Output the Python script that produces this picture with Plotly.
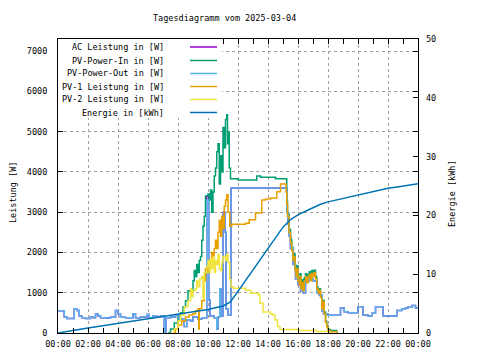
import plotly.graph_objects as go

DATE = "2025-03-04"


def ts(hm):
    if hm == "24:00":
        return "2025-03-05 00:00"
    return f"{DATE} {hm}"


# ---------------- data ----------------
# PV-Power-Out [W]
out_t = ["00:00", "00:25", "00:35", "01:05", "01:15", "01:25", "01:35", "01:50", "02:10", "02:20",
         "02:30", "02:40", "02:50", "03:10", "03:30", "03:50", "04:00", "04:10", "04:30", "05:00",
         "05:10", "05:30", "05:55", "06:05", "06:20", "06:35", "06:50", "07:05", "07:12", "07:30",
         "07:50", "08:05", "08:25", "08:35", "08:50", "09:00", "09:20", "09:35", "09:55", "10:03",
         "10:08", "10:25", "10:35", "10:40", "10:47", "10:52", "11:00", "11:08", "11:12", "11:20",
         "11:32", "15:15", "15:20", "15:25", "15:30", "15:40", "15:50", "16:00", "16:10", "16:20",
         "16:30", "16:45", "17:00", "17:15", "17:25", "17:35", "17:42", "18:00", "18:50", "19:05",
         "19:20", "20:00", "20:20", "20:40", "20:55", "21:10", "21:40", "22:35", "22:55", "23:10",
         "23:20", "23:35", "23:50", "24:00"]
out_w = [550, 400, 360, 600, 560, 420, 380, 360, 400, 380,
         470, 420, 380, 370, 390, 560, 480, 390, 380, 480,
         380, 400, 460, 380, 430, 400, 420, 0, 380, 400,
         450, 340, 160, 330, 300, 400, 350, 380, 3300, 820,
         420, 380, 100, 400, 1100, 420, 2980, 2500, 600, 450,
         3600, 3000, 2700, 2400, 2100, 1700, 1350, 1200, 1050, 1000,
         1300, 1350, 1300, 1000, 950, 550, 480, 440, 620, 530,
         500, 650, 450, 420, 490, 650, 420, 560, 600, 620,
         640, 680, 620, 620]

# AC Leistung [W] (mostly identical to PV-Power-Out, slightly higher peaks)
ac_t = out_t
ac_w = list(out_w)
ac_w[out_t.index("09:55")] = 3400
ac_w[out_t.index("11:00")] = 3000

# PV-Power-In [W]
in_t = ["07:20", "07:30", "07:45", "08:00", "08:10", "08:20", "08:30", "08:40", "08:50", "09:00",
        "09:05", "09:10", "09:15", "09:20", "09:25", "09:30", "09:35", "09:40", "09:45", "09:50",
        "10:00", "10:05", "10:10", "10:15", "10:20", "10:25", "10:30", "10:35", "10:40", "10:45",
        "10:50", "10:55", "11:00", "11:05", "11:10", "11:15", "11:18", "11:20", "11:25", "11:30",
        "12:00", "13:15", "13:30", "14:30", "15:15", "15:18", "15:24", "15:30", "15:35", "15:40",
        "15:45", "15:48", "15:52", "15:55", "16:00", "16:05", "16:08", "16:12", "16:15", "16:20",
        "16:25", "16:30", "16:35", "16:40", "16:45", "16:50", "16:55", "17:00", "17:05", "17:10",
        "17:15", "17:20", "17:25", "17:30", "17:35", "17:40", "17:45", "17:50", "17:55", "18:00",
        "18:10", "18:35"]
in_w = [0, 100, 250, 400, 500, 650, 800, 1050, 1000, 1300,
        1550, 1400, 1700, 1500, 1800, 1900, 2300, 2650, 2900, 3400,
        3450, 3300, 3550, 3000, 3500, 3900, 4100, 4500, 4700, 3700,
        4400, 4000, 5100, 4600, 5300, 5420, 4700, 5000, 4100, 3830,
        3800, 3900, 3870, 3830, 3270, 2970, 2570, 2320, 2120, 1870,
        1970, 1620, 1470, 1670, 1370, 1270, 1470, 1170, 1320, 1120,
        1370, 1470, 1320, 1450, 1520, 1370, 1550, 1460, 1560, 1400,
        1140, 1040, 1100, 920, 640, 810, 520, 290, 180, 90,
        60, 0]

# PV-1 Leistung [W]
pv1_t = ["07:40", "07:50", "08:00", "08:15", "08:30", "08:45", "09:00", "09:10", "09:20", "09:23",
         "09:25", "09:35", "09:45", "09:50", "09:55", "10:00", "10:05", "10:10", "10:15", "10:20",
         "10:25", "10:30", "10:35", "10:40", "10:45", "10:50", "10:55", "11:00", "11:05", "11:10",
         "11:15", "11:20", "11:27", "11:35", "12:30", "12:45", "13:10", "13:35", "13:50", "14:10",
         "14:35", "14:50", "15:12", "15:15", "15:18", "15:24", "15:30", "15:35", "15:40", "15:45",
         "15:48", "15:52", "15:55", "16:00", "16:05", "16:08", "16:12", "16:15", "16:20", "16:25",
         "16:30", "16:35", "16:40", "16:45", "16:50", "16:55", "17:00", "17:05", "17:10", "17:15",
         "17:20", "17:25", "17:30", "17:35", "17:40", "17:45", "17:50", "17:55", "18:00", "18:10",
         "18:35"]
pv1_w = [0, 100, 200, 300, 400, 450, 480, 550, 600, 100,
         600, 800, 1300, 1600, 1500, 1650, 1800, 1700, 2000, 1800,
         2100, 2300, 2100, 2500, 2800, 2400, 2900, 2600, 3150, 3300,
         3430, 3000, 2650, 2700, 2725, 2810, 2980, 3300, 3330, 3350,
         3510, 3700, 3500, 3200, 2900, 2500, 2250, 2050, 1800, 1900,
         1550, 1400, 1600, 1300, 1200, 1400, 1100, 1250, 1050, 1300,
         1400, 1250, 1380, 1450, 1300, 1480, 1400, 1500, 1350, 1100,
         1000, 1060, 880, 600, 780, 480, 260, 150, 60, 30,
         0]

# PV-2 Leistung [W]
pv2_t = ["07:30", "07:45", "08:00", "08:10", "08:25", "08:40", "08:50", "08:55", "09:00", "09:10",
         "09:15", "09:20", "09:27", "09:35", "09:40", "09:45", "09:55", "10:00", "10:05", "10:10",
         "10:15", "10:20", "10:25", "10:30", "10:35", "10:40", "10:45", "10:50", "10:55", "11:00",
         "11:10", "11:15", "11:20", "11:27", "11:32", "11:42", "12:30", "12:50", "13:20", "13:28",
         "13:40", "14:10", "14:20", "14:28", "14:38", "14:48", "16:00", "17:15", "18:05"]
pv2_w = [0, 100, 300, 450, 650, 800, 1100, 900, 1050, 1100,
         1300, 1150, 1350, 1400, 850, 1500, 1650, 1800, 1500, 1850,
         1600, 1900, 1500, 1800, 1700, 1950, 1600, 1550, 1750, 1900,
         1800, 1950, 1750, 1320, 1150, 1110, 1060, 990, 950, 740,
         520, 470, 440, 320, 160, 90, 60, 40, 0]

# Energie [kWh] (right axis)
en_t = ["00:00", "00:30", "01:00", "01:30", "02:00", "02:30", "03:00", "03:30", "04:00", "04:30",
        "05:00", "05:30", "06:00", "06:30", "07:00", "07:30", "08:00", "08:30", "09:00", "09:30",
        "10:00", "10:30", "11:00", "11:30", "12:00", "12:30", "13:00", "13:30", "14:00", "14:30",
        "15:00", "15:30", "16:00", "16:30", "17:00", "17:30", "18:00", "18:30", "19:00", "19:30",
        "20:00", "20:30", "21:00", "21:30", "22:00", "22:30", "23:00", "23:30", "24:00"]
en_kwh = [0.0, 0.25, 0.45, 0.65, 0.85, 1.05, 1.25, 1.45, 1.65, 1.85,
          2.05, 2.25, 2.45, 2.65, 2.85, 3.0, 3.2, 3.4, 3.55, 3.75,
          4.0, 4.3, 4.6, 5.3, 7.1, 8.9, 10.7, 12.5, 14.2, 16.1,
          18.0, 19.3, 20.1, 20.7, 21.3, 21.9, 22.3, 22.6, 22.9, 23.2,
          23.5, 23.8, 24.05, 24.3, 24.6, 24.8, 25.0, 25.2, 25.4]

x_tick_times = ["00:00", "02:00", "04:00", "06:00", "08:00", "10:00", "12:00",
                "14:00", "16:00", "18:00", "20:00", "22:00", "24:00"]
x_tick_labels = ["00:00", "02:00", "04:00", "06:00", "08:00", "10:00", "12:00",
                 "14:00", "16:00", "18:00", "20:00", "22:00", "00:00"]

# ---------------- figure ----------------
FONT = "DejaVu Sans Mono"
FS = 8.5
LW = 1.5
series = [
    ("AC Leistung in [W]", ac_t, ac_w, "#9400d3", "y", "hv"),
    ("PV-Power-In in [W]", in_t, in_w, "#009e73", "y", "hv"),
    ("PV-Power-Out in [W]", out_t, out_w, "#56b4e9", "y", "hv"),
    ("PV-1 Leistung in [W]", pv1_t, pv1_w, "#e69f00", "y", "hv"),
    ("PV-2 Leistung in [W]", pv2_t, pv2_w, "#f0e442", "y", "hv"),
    ("Energie in [kWh]", en_t, en_kwh, "#0072b2", "y2", "linear"),
]

fig = go.Figure()
for name, t, v, col, ax, shape in series:
    fig.add_trace(go.Scatter(x=[ts(h) for h in t], y=v, name=name, mode="lines",
                             line=dict(color=col, width=LW, shape=shape),
                             yaxis=ax, showlegend=False))

# page body adds an 8px margin; figure is sized so the page is 480x360
OFF = 8
W, H = 480 - OFF, 360 - OFF
PL, PT, PR, PB = 58, 39, 418, 333          # plot area on screen
L, T = PL - OFF, PT - OFF
R, B = W - (PR - OFF), H - (PB - OFF)


def px(x):
    return (x - PL) / (PR - PL)


def py(y):
    return (PB - y) / (PB - PT)


shapes = [dict(type="rect", xref="paper", yref="paper", x0=0, x1=px(222), y0=py(118), y1=1,
               fillcolor="white", line=dict(width=0), layer="above")]
annotations = []
row_y = [47, 60.5, 73.5, 86.5, 99.5, 112.5]
for (name, t, v, col, ax, shape), ry in zip(series, row_y):
    annotations.append(dict(text=name, xref="paper", yref="paper", x=px(166), y=py(ry),
                            xanchor="right", yanchor="middle", showarrow=False,
                            font=dict(family=FONT, size=FS, color="black")))
    shapes.append(dict(type="line", xref="paper", yref="paper", x0=px(190), x1=px(217),
                       y0=py(ry), y1=py(ry), line=dict(color=col, width=LW), layer="above"))

annotations.append(dict(text="Tagesdiagramm vom 2025-03-04", xref="paper", yref="paper",
                        x=px(224), y=py(18), xanchor="center", yanchor="middle", showarrow=False,
                        font=dict(family=FONT, size=FS, color="black")))
annotations.append(dict(text="Leistung [W]", xref="paper", yref="paper", x=px(13), y=py(193),
                        xanchor="center", yanchor="middle", textangle=-90, showarrow=False,
                        font=dict(family=FONT, size=FS, color="black")))
annotations.append(dict(text="Energie [kWh]", xref="paper", yref="paper", x=px(452), y=py(194),
                        xanchor="center", yanchor="middle", textangle=-90, showarrow=False,
                        font=dict(family=FONT, size=FS, color="black")))

grid = dict(showgrid=True, gridcolor="#a0a0a0", gridwidth=1, griddash="3px,3px")
fig.update_layout(
    width=W, height=H, margin=dict(l=L, r=R, t=T, b=B, pad=0, autoexpand=False),
    paper_bgcolor="white", plot_bgcolor="white",
    font=dict(family=FONT, size=FS, color="black"),
    shapes=shapes, annotations=annotations,
    xaxis=dict(type="date", range=[ts("00:00"), ts("24:00")],
               tickvals=[ts(h) for h in x_tick_times], ticktext=x_tick_labels,
               ticks="inside", ticklen=5, tickcolor="black", ticklabelstandoff=3,
               minor=dict(dtick=3600000, ticks="inside", ticklen=3, tickcolor="black", showgrid=False),
               showline=True, linecolor="black", linewidth=1, mirror="allticks",
               zeroline=False, **grid),
    yaxis=dict(range=[0, 7300], dtick=1000, ticks="inside", ticklen=5, tickcolor="black",
               ticklabelstandoff=8,
               showline=True, linecolor="black", linewidth=1, mirror="allticks",
               zeroline=False, **grid),
    yaxis2=dict(range=[0, 50], dtick=10, overlaying="y", side="right", ticks="inside",
                ticklen=5, tickcolor="black", ticklabelstandoff=7,
                showgrid=False, zeroline=False, showline=False),
)

fig.write_html("out.html")
